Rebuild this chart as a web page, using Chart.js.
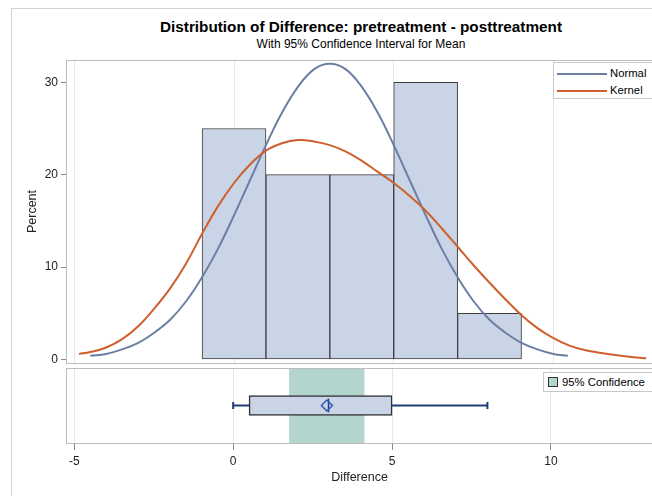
<!DOCTYPE html>
<html><head><meta charset="utf-8">
<script src="https://cdn.jsdelivr.net/npm/chart.js@4.4.1/dist/chart.umd.min.js"></script>
<style>
html,body{margin:0;padding:0;background:#fff;width:652px;height:496px;overflow:hidden;}
body{position:relative;font-family:"Liberation Sans",Arial,sans-serif;color:#000;}
#frame{position:absolute;left:11px;top:8px;width:700px;height:600px;border-left:1px solid #d2d2d2;border-top:1px solid #d2d2d2;}
.t{position:absolute;left:66px;width:590px;text-align:center;white-space:nowrap;}
#title{top:18px;font-size:15.3px;line-height:18px;font-weight:bold;}
#sub{top:37px;font-size:12px;line-height:14px;}
.wrap{position:absolute;left:0;width:660px;}
#w1{top:0;height:366px;}
#w2{top:360px;height:136px;}
.leg{position:absolute;background:#fff;border:1px solid #c8c8c8;font-size:11.3px;line-height:14px;white-space:nowrap;}
.ln{position:absolute;height:2px;}
.lt{position:absolute;}
</style></head>
<body>
<div id="frame"></div>
<div class="t" id="title">Distribution of Difference: pretreatment - posttreatment</div>
<div class="t" id="sub">With 95% Confidence Interval for Mean</div>
<div class="wrap" id="w1"><canvas id="c1"></canvas></div>
<div class="wrap" id="w2"><canvas id="c2"></canvas></div>
<div class="leg" style="left:553px;top:62px;width:110px;height:35px;">
  <div class="ln" style="left:3px;top:10px;width:50px;background:#6b7fa4;"></div>
  <div class="lt" style="left:56px;top:3px;">Normal</div>
  <div class="ln" style="left:3px;top:27px;width:50px;background:#cf5f2c;"></div>
  <div class="lt" style="left:56px;top:20px;">Kernel</div>
</div>
<div class="leg" style="left:543px;top:372px;width:120px;height:18px;">
  <div style="position:absolute;left:4px;top:4px;width:8px;height:8px;border:1px solid #333;background:#b4d5cd;"></div>
  <div class="lt" style="left:18px;top:2px;">95% Confidence</div>
</div>
<script>
// ---- data ----
const binCenters = [0, 2, 4, 6, 8];
const binPercent = [25, 20, 20, 30, 5];
const normalX = [-4.5,-4,-3.5,-3,-2.5,-2,-1.5,-1,-0.5,0,0.5,1,1.5,2,2.5,3,3.5,4,4.5,5,5.5,6,6.5,7,7.5,8,8.5,9,9.5,10,10.45];
const normalY = [0.4,0.6,1.1,1.8,2.9,4.3,6.3,8.9,12.0,15.6,19.4,23.2,26.7,29.5,31.4,32.0,31.4,29.5,26.7,23.2,19.4,15.6,12.0,8.9,6.3,4.3,2.9,1.8,1.1,0.6,0.4];
const kernelX = [-4.85,-4.5,-4,-3.5,-3,-2.5,-2,-1.5,-1,-0.5,0,0.5,1,1.5,2,2.5,3,3.5,4,4.5,5,5.5,6,6.5,7,7.5,8,8.5,9,9.5,10,10.5,11,11.5,12,12.5,12.9];
const kernelY = [0.6,0.8,1.3,2.2,3.6,5.5,7.7,10.4,13.6,16.6,19.1,21.1,22.6,23.4,23.75,23.6,23.2,22.5,21.5,20.3,19.1,17.7,16.1,14.2,12.2,10.2,8.3,6.5,4.8,3.4,2.3,1.5,1.0,0.7,0.45,0.25,0.13];
const boxStats = [0, 0.5, 3, 2.95, 5, 8]; // min, Q1, median, mean, Q3, max
const meanCI = [1.77, 4.12];
const xTicks = [-5, 0, 5, 10];
const yTicks = [0, 10, 20, 30];

const X_MIN = -5.26, X_MAX = 13.21;
const FONT = "'Liberation Sans', Arial, sans-serif";
Chart.defaults.font.family = FONT;
Chart.defaults.color = '#222';

const zip = (xs, ys) => xs.map((x, i) => ({x, y: ys[i]}));

const framePlugin = {
  id: 'frame',
  afterDatasetsDraw(chart) {
    const a = chart.chartArea, ctx = chart.ctx;
    ctx.save();
    ctx.strokeStyle = '#bdbdbd';
    ctx.lineWidth = 1;
    ctx.strokeRect(Math.round(a.left) + 0.5, Math.round(a.top) + 0.5, Math.round(a.right - a.left), Math.round(a.bottom - a.top));
    ctx.restore();
  }
};

const xScaleBase = {
  type: 'linear', min: X_MIN, max: X_MAX, offset: false,
  afterBuildTicks: s => { s.ticks = xTicks.map(v => ({value: v})); },
  border: {display: false},
};

new Chart(document.getElementById('c1'), {
  type: 'line',
  data: {datasets: [
    {type: 'line', label: 'Kernel', data: zip(kernelX, kernelY), borderColor: '#cf5f2c', borderWidth: 2,
     pointRadius: 0, fill: false, tension: 0.4, order: 0},
    {type: 'line', label: 'Normal', data: zip(normalX, normalY), borderColor: '#6b7fa4', borderWidth: 2,
     pointRadius: 0, fill: false, tension: 0.4, order: 1},
    {type: 'bar', label: 'Percent', data: zip(binCenters, binPercent), backgroundColor: '#c9d4e6',
     borderColor: '#3d3d3d', borderWidth: 1, borderSkipped: false, barPercentage: 1, categoryPercentage: 1, order: 2}
  ]},
  options: {
    responsive: true, maintainAspectRatio: false, animation: false,
    layout: {padding: {left: 0, top: 60, right: 4, bottom: 3}},
    plugins: {legend: {display: false}, tooltip: {enabled: false}},
    scales: {
      x: Object.assign({}, xScaleBase, {
        ticks: {display: false},
        grid: {color: '#e6e6e6', drawTicks: false, offset: false},
        afterFit: s => { s.height = 0; s.paddingLeft = 0; s.paddingRight = 0; }
      }),
      y: {
        type: 'linear', min: -0.38, max: 32.41,
        afterBuildTicks: s => { s.ticks = yTicks.map(v => ({value: v})); },
        border: {display: false},
        grid: {drawOnChartArea: false, tickLength: 5, tickColor: '#8a8a8a', offset: false},
        ticks: {padding: 3, font: {size: 12}, color: '#222'},
        title: {display: true, text: 'Percent', font: {size: 12.5}, color: '#222', padding: {top: 25, bottom: 0}},
        afterFit: s => { s.width = 66; s.paddingTop = 0; s.paddingBottom = 0; }
      }
    }
  },
  plugins: [framePlugin]
});

const bx = (x, y) => ({x, y});
new Chart(document.getElementById('c2'), {
  type: 'line',
  data: {datasets: [
    {type: 'scatter', label: 'Mean', data: [bx(boxStats[3], 0.5)], pointStyle: 'rectRot', pointRadius: 5.5,
     borderColor: '#3558b8', borderWidth: 1.5, backgroundColor: 'rgba(0,0,0,0)', order: 0},
    {type: 'line', label: 'Median', data: [bx(boxStats[2], 0.365), bx(boxStats[2], 0.635)], borderColor: '#1f3a78',
     borderWidth: 1.5, pointRadius: 0, order: 1},
    {type: 'line', label: 'WL', data: [bx(boxStats[0], 0.5), bx(boxStats[1], 0.5)], borderColor: '#1f3a78', borderWidth: 2, pointRadius: 0, order: 1},
    {type: 'line', label: 'WR', data: [bx(boxStats[4], 0.5), bx(boxStats[5], 0.5)], borderColor: '#1f3a78', borderWidth: 2, pointRadius: 0, order: 1},
    {type: 'line', label: 'CL', data: [bx(boxStats[0], 0.43), bx(boxStats[0], 0.57)], borderColor: '#1f3a78', borderWidth: 2, pointRadius: 0, order: 1},
    {type: 'line', label: 'CR', data: [bx(boxStats[5], 0.43), bx(boxStats[5], 0.57)], borderColor: '#1f3a78', borderWidth: 2, pointRadius: 0, order: 1},
    {type: 'bar', label: 'Box', indexAxis: 'y', data: [{y: 0.5, x: [boxStats[1], boxStats[4]]}], backgroundColor: '#c9d4e6',
     borderColor: '#333', borderWidth: 1.5, borderSkipped: false, barThickness: 20, grouped: false, order: 2},
    {type: 'bar', label: '95% Confidence', indexAxis: 'y', data: [{y: 0.5, x: meanCI}], backgroundColor: '#b4d5cd',
     borderWidth: 0, barThickness: 80, grouped: false, clip: 0, order: 3}
  ]},
  options: {
    responsive: true, maintainAspectRatio: false, animation: false,
    layout: {padding: {left: 66, top: 8, right: 4, bottom: 10}},
    plugins: {legend: {display: false}, tooltip: {enabled: false}},
    scales: {
      x: Object.assign({}, xScaleBase, {
        position: 'bottom',
        grid: {color: '#e6e6e6', tickLength: 7, tickColor: '#8a8a8a', offset: false},
        ticks: {padding: 4, font: {size: 12}, color: '#222', maxRotation: 0},
        title: {display: true, text: 'Difference', font: {size: 12.5}, color: '#222', padding: {top: 0, bottom: 1}},
        afterFit: s => { s.height = 43; s.paddingLeft = 0; s.paddingRight = 0; }
      }),
      y: {type: 'linear', min: 0, max: 1, display: false, grid: {offset: false}}
    }
  },
  plugins: [framePlugin]
});
</script>
</body></html>
